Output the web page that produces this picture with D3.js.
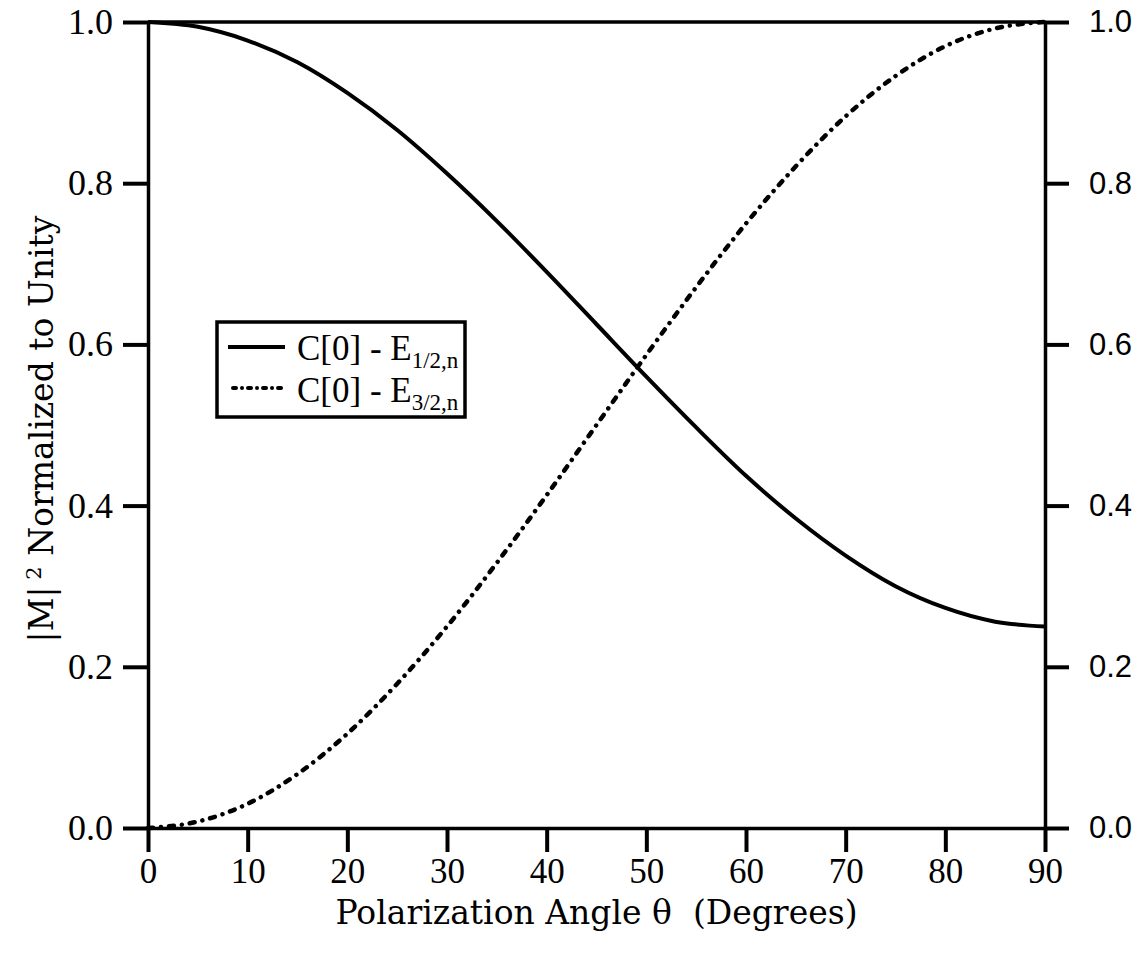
<!DOCTYPE html>
<html>
<head>
<meta charset="utf-8">
<script src="https://cdn.jsdelivr.net/npm/d3@7"></script>
<style>
    body { margin: 0; background: #fff; }
</style>
</head>
<body>
<div id="chart"></div>
<script>
// polarization angle (degrees) and the two |M|^2 curves
var theta = [0, 5, 10, 15, 20, 25, 30, 35, 40, 45, 50, 55, 60, 65, 70, 75, 80, 85, 90];
var e12 = [1.0, 0.994, 0.977, 0.950, 0.912, 0.866, 0.812, 0.753, 0.690, 0.625,
    0.560, 0.497, 0.437, 0.384, 0.338, 0.300, 0.273, 0.256, 0.250];
var e32 = [0.0, 0.008, 0.030, 0.067, 0.117, 0.179, 0.250, 0.329, 0.413, 0.500,
    0.587, 0.671, 0.750, 0.821, 0.883, 0.933, 0.970, 0.992, 1.0];
var x_ticks = [0, 10, 20, 30, 40, 50, 60, 70, 80, 90];
var y_ticks = [0.0, 0.2, 0.4, 0.6, 0.8, 1.0];

var chart_width = 1147;
var chart_height = 954;
var plot_left = 148, plot_right = 1045, plot_top = 22, plot_bottom = 828;

var serif = "'Liberation Serif', serif";
var title_font = "'DejaVu Serif', serif";
var sans = "'Liberation Sans', sans-serif";

var svg = d3.select('#chart')
    .append('svg')
    .attr('width', chart_width)
    .attr('height', chart_height);

var x_scale = d3.scaleLinear().domain([0, 90]).range([plot_left, plot_right]);
var y_scale = d3.scaleLinear().domain([0, 1]).range([plot_bottom, plot_top]);

function style_axis(g, size, font) {
    g.select('.domain').attr('stroke', '#000').attr('stroke-width', 3.5);
    g.selectAll('.tick line').attr('stroke', '#000').attr('stroke-width', 4);
    g.selectAll('.tick text')
        .attr('fill', '#000')
        .style('font-family', font)
        .style('font-size', size + 'px');
}

// axes
var x_axis = d3.axisBottom(x_scale)
    .tickValues(x_ticks)
    .tickSize(24)
    .tickSizeOuter(0)
    .tickPadding(6);
svg.append('g')
    .attr('class', 'x-axis')
    .attr('transform', 'translate(0,' + plot_bottom + ')')
    .call(x_axis)
    .call(style_axis, 35, serif);

var y_axis = d3.axisLeft(y_scale)
    .tickValues(y_ticks)
    .tickFormat(d3.format('.1f'))
    .tickSize(25)
    .tickSizeOuter(0)
    .tickPadding(10);
svg.append('g')
    .attr('class', 'y-axis')
    .attr('transform', 'translate(' + plot_left + ',0)')
    .call(y_axis)
    .call(style_axis, 36, serif);

var y_axis_right = d3.axisRight(y_scale)
    .tickValues(y_ticks)
    .tickFormat(d3.format('.1f'))
    .tickSize(24)
    .tickSizeOuter(0)
    .tickPadding(20);
svg.append('g')
    .attr('class', 'y-axis-right')
    .attr('transform', 'translate(' + plot_right + ',0)')
    .call(y_axis_right)
    .call(style_axis, 31, sans);

// top frame line
svg.append('line')
    .attr('x1', x_scale(0))
    .attr('x2', x_scale(90))
    .attr('y1', y_scale(1))
    .attr('y2', y_scale(1))
    .attr('stroke', '#000')
    .attr('stroke-width', 3.5);

// axis titles
svg.append('text')
    .attr('x', (plot_left + plot_right) / 2)
    .attr('y', 924)
    .attr('text-anchor', 'middle')
    .style('font-family', title_font)
    .style('font-size', '33px')
    .style('white-space', 'pre')
    .text('Polarization Angle \u03b8  (Degrees)');

var y_title = svg.append('text')
    .attr('transform', 'translate(53,' + ((plot_top + plot_bottom) / 2 + 4) + ') rotate(-90)')
    .attr('text-anchor', 'middle')
    .style('font-family', title_font)
    .style('font-size', '33px');
y_title.append('tspan').text('|M|');
y_title.append('tspan')
    .attr('dy', -12)
    .style('font-size', '21px')
    .text(' 2');
y_title.append('tspan')
    .attr('dy', 12)
    .text(' Normalized to Unity');

// curves
var line = d3.line()
    .x(function (d) { return x_scale(d[0]); })
    .y(function (d) { return y_scale(d[1]); })
    .curve(d3.curveMonotoneX);

svg.append('path')
    .datum(d3.zip(theta, e12))
    .attr('d', line)
    .attr('fill', 'none')
    .attr('stroke', '#000')
    .attr('stroke-width', 4);

svg.append('path')
    .datum(d3.zip(theta, e32))
    .attr('d', line)
    .attr('fill', 'none')
    .attr('stroke', '#000')
    .attr('stroke-width', 4.5)
    .attr('stroke-linecap', 'round')
    .attr('stroke-dasharray', '5,8,0.01,8');

// legend
var legend = svg.append('g').attr('class', 'legend');
legend.append('rect')
    .attr('x', 217)
    .attr('y', 322)
    .attr('width', 248)
    .attr('height', 95)
    .attr('fill', '#fff')
    .attr('stroke', '#000')
    .attr('stroke-width', 3.5);

var entries = [
    {sub: '1/2,n', y: 347, dashed: false},
    {sub: '3/2,n', y: 388, dashed: true}
];
entries.forEach(function (e, i) {
    legend.append('line')
        .attr('x1', e.dashed ? 233 : 228)
        .attr('x2', 285)
        .attr('y1', e.y)
        .attr('y2', e.y)
        .attr('stroke', '#000')
        .attr('stroke-width', 4)
        .attr('stroke-linecap', e.dashed ? 'round' : 'butt')
        .attr('stroke-dasharray', e.dashed ? '3,6,0.01,6' : null);
    var t = legend.append('text')
        .attr('x', 297)
        .attr('y', i === 0 ? 360 : 402)
        .style('font-family', serif)
        .style('font-size', '35px');
    t.append('tspan').text('C[0] - E');
    t.append('tspan')
        .attr('dy', 8)
        .style('font-size', '23px')
        .text(e.sub);
});
</script>
</body>
</html>
